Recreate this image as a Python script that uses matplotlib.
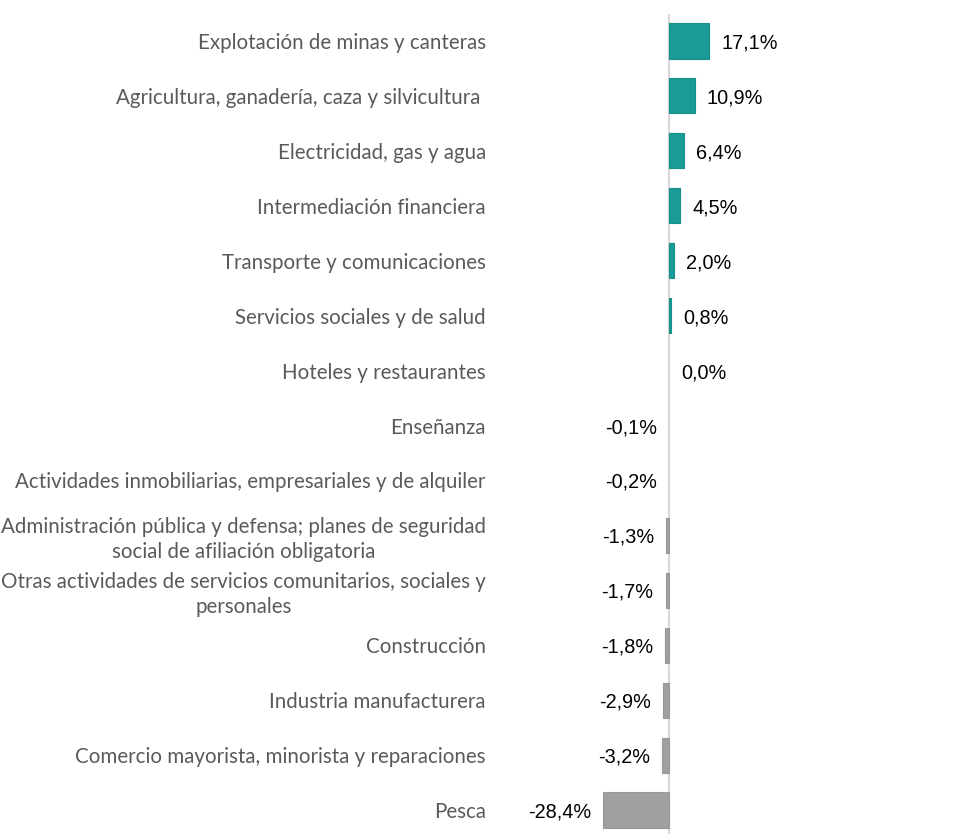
import numpy as np
import matplotlib.pyplot as plt

# === DATOS === #
sectores = [
    'Explotación de minas y canteras',
    'Agricultura, ganadería, caza y silvicultura ',
    'Electricidad, gas y agua',
    'Intermediación financiera',
    'Transporte y comunicaciones',
    'Servicios sociales y de salud',
    'Hoteles y restaurantes',
    'Enseñanza',
    'Actividades inmobiliarias, empresariales y de alquiler',
    'Administración pública y defensa; planes de seguridad\nsocial de afiliación obligatoria',
    'Otras actividades de servicios comunitarios, sociales y\npersonales',
    'Construcción',
    'Industria manufacturera',
    'Comercio mayorista, minorista y reparaciones',
    'Pesca',
]
variacion = [17.1, 10.9, 6.4, 4.5, 2.0, 0.8, 0.0, -0.1, -0.2, -1.3, -1.7, -1.8, -2.9, -3.2, -28.4]

color_pos = '#1a9b97'
color_neg = '#a0a0a0'

# === GRÁFICO === #
fig = plt.figure(figsize=(9.8, 8.34), dpi=100)
ax = fig.add_axes([0.5, -0.0042, 0.5, 0.988])

y = np.arange(len(sectores))
colores = [color_pos if v > 0 else color_neg for v in variacion]
bordes = ['#168f8b' if v > 0 else '#989898' for v in variacion]
anchos = [0.8 if abs(v) >= 0.5 else 0 for v in variacion]
ax.barh(y, variacion, height=0.64, color=colores, edgecolor=bordes, linewidth=anchos, zorder=2)

ax.set_ylim(len(sectores) - 0.5, -0.5)
ax.set_xlim(-76.7, 132.7)

ax.set_yticks(y)
ax.set_yticklabels(sectores, fontsize=14.8, color='#5a5a5a', family=['Lato', 'DejaVu Sans'],
                   linespacing=1.3)
for lbl in ax.get_yticklabels():
    lbl.set_multialignment('center')
ax.tick_params(axis='y', length=0, pad=3)
ax.set_xticks([])

for s in ['top', 'right', 'bottom', 'left']:
    ax.spines[s].set_visible(False)
ax.axvline(0, color='#d9d9d9', linewidth=1.5, zorder=1)

# etiquetas de datos
for yi, v in zip(y, variacion):
    txt = f'{v:.1f}%'.replace('.', ',')
    if v >= 0:
        ax.annotate(txt, (v, yi), xytext=(12, -2), textcoords='offset pixels',
                    ha='left', va='center', fontsize=14.3, color='black',
                    family='Liberation Sans')
    else:
        ax.annotate(txt, (v, yi), xytext=(-12, -2), textcoords='offset pixels',
                    ha='right', va='center', fontsize=14.3, color='black',
                    family='Liberation Sans')

fig.savefig('out.png', dpi=100)
